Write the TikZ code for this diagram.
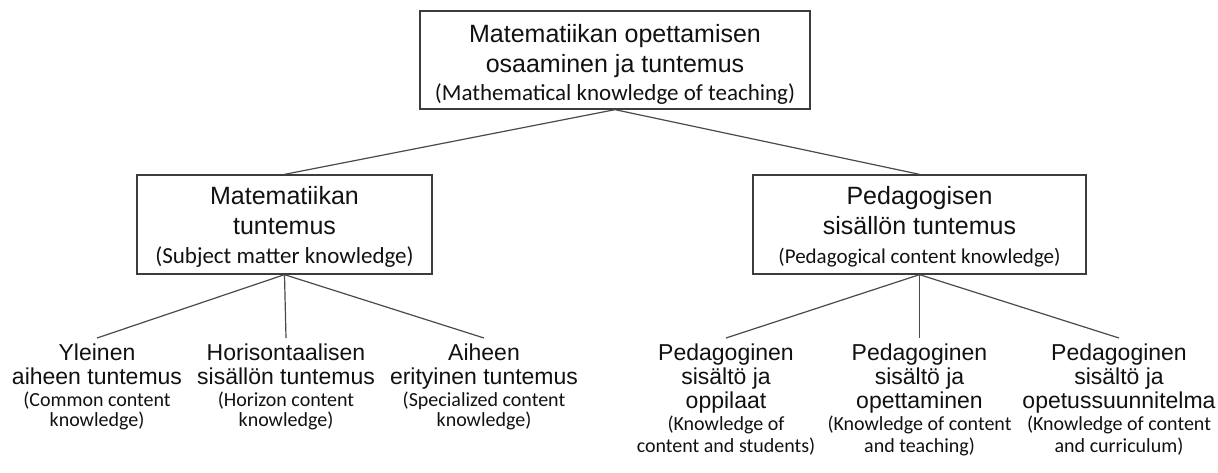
\documentclass[tikz,border=0pt]{standalone}
\usepackage{fontspec}
\setmainfont{Liberation Sans}
\newfontfamily\calib{Carlito}
\definecolor{boxc}{HTML}{3C3C3C}
\definecolor{linec}{HTML}{4A4A4A}
\definecolor{txt}{HTML}{111111}
\tikzset{
  box/.style={draw=boxc, line width=1.3pt, inner sep=0pt, align=center, text=txt},
  leaf/.style={anchor=north, inner xsep=0pt, inner ysep=5.5pt, align=center, text=txt,
    font=\fontsize{23}{24}\selectfont},
  conn/.style={draw=linec, line width=1.2pt},
}
\begin{document}
\begin{tikzpicture}[x=1pt, y=-1pt]
\useasboundingbox (0,0) rectangle (1218,472);
\node[box, minimum width=390pt, minimum height=98pt, font=\fontsize{25}{30}\selectfont]
  (top) at (615,60)
  {\rule{0pt}{26pt}Matematiikan opettamisen\\osaaminen ja tuntemus\\[-2pt]{\calib\fontsize{23}{30}\selectfont (Mathematical knowledge of teaching)}};
\node[box, minimum width=295pt, minimum height=99pt, font=\fontsize{25}{29.5}\selectfont]
  (smk) at (284.5,224.5)
  {\rule{0pt}{23pt}Matematiikan\\tuntemus\\{\calib\fontsize{23}{29.5}\selectfont (Subject matter knowledge)}};
\node[box, minimum width=333pt, minimum height=99pt, font=\fontsize{25}{29.5}\selectfont]
  (pck) at (919.5,224.5)
  {\rule{0pt}{23pt}Pedagogisen\\sisällön tuntemus\\{\calib\fontsize{21}{29.5}\selectfont (Pedagogical content knowledge)}};

\node[leaf] (cck) at (97,338)
  {Yleinen\\aiheen tuntemus\\[-2pt]{\calib\fontsize{20}{20}\selectfont (Common content}\\[-4pt]{\calib\fontsize{20}{20}\selectfont knowledge)}};
\node[leaf] (hck) at (286,338)
  {Horisontaalisen\\sisällön tuntemus\\[-2pt]{\calib\fontsize{20}{20}\selectfont (Horizon content}\\[-4pt]{\calib\fontsize{20}{20}\selectfont knowledge)}};
\node[leaf] (sck) at (484,338)
  {Aiheen\\erityinen tuntemus\\[-2pt]{\calib\fontsize{20}{20}\selectfont (Specialized content}\\[-4pt]{\calib\fontsize{20}{20}\selectfont knowledge)}};

\node[leaf] (kcs) at (726,338)
  {Pedagoginen\\sisältö ja\\oppilaat\\[-2pt]{\calib\fontsize{20}{20}\selectfont (Knowledge of}\\[-2pt]{\calib\fontsize{20}{20}\selectfont content and students)}};
\node[leaf] (kct) at (919.5,338)
  {Pedagoginen\\sisältö ja\\opettaminen\\[-2pt]{\calib\fontsize{20}{20}\selectfont (Knowledge of content}\\[-2pt]{\calib\fontsize{20}{20}\selectfont and teaching)}};
\node[leaf] (kcc) at (1119,338)
  {Pedagoginen\\sisältö ja\\opetussuunnitelma\\[-2pt]{\calib\fontsize{20}{20}\selectfont (Knowledge of content}\\[-2pt]{\calib\fontsize{20}{20}\selectfont and curriculum)}};

\draw[conn] (top.south) -- (smk.north);
\draw[conn] (top.south) -- (pck.north);
\draw[conn] (smk.south) -- (cck.north);
\draw[conn] (smk.south) -- (hck.north);
\draw[conn] (smk.south) -- (sck.north);
\draw[conn] (pck.south) -- (kcs.north);
\draw[conn] (pck.south) -- (kct.north);
\draw[conn] (pck.south) -- (kcc.north);
\end{tikzpicture}
\end{document}
